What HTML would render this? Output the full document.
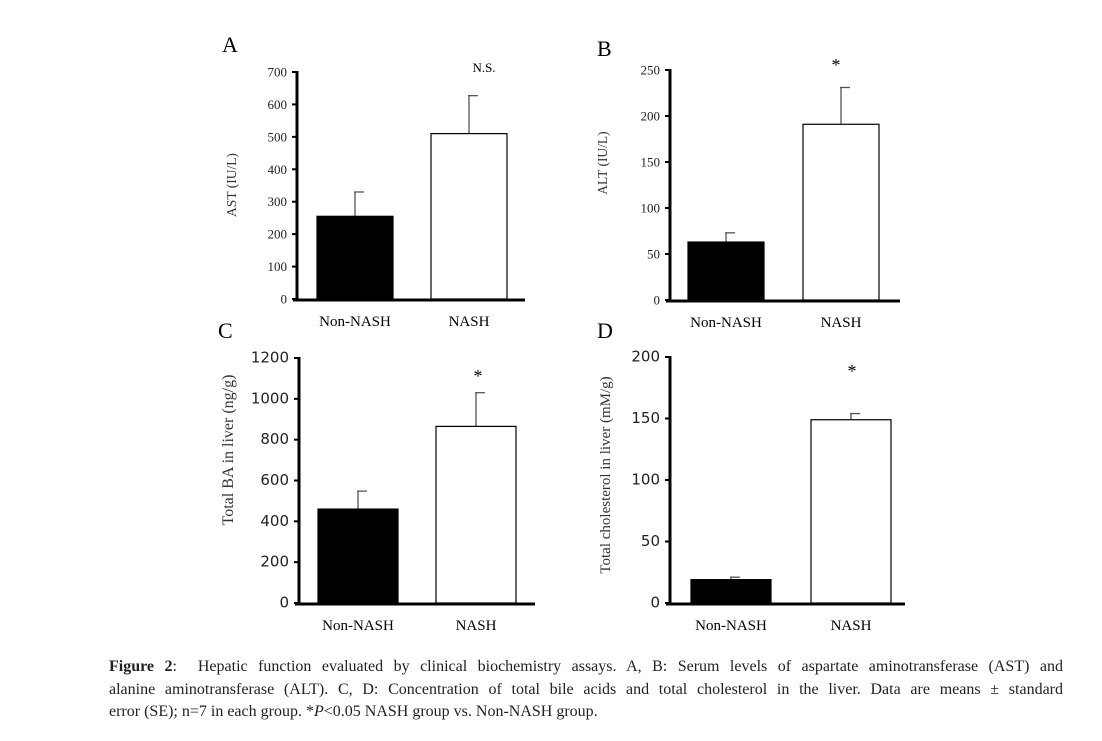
<!DOCTYPE html>
<html><head><meta charset="utf-8"><style>
body{margin:0;background:#fff;width:1102px;height:741px;overflow:hidden;position:relative;font-family:"Liberation Serif",serif}
.cap{position:absolute;left:109px;top:656px;width:954px;font-size:16px;line-height:22.5px;color:#222}
.cap div{white-space:nowrap}
.cap .j{text-align:justify;text-align-last:justify;white-space:normal}
</style></head><body>
<svg id="chart" width="1102" height="650" style="position:absolute;left:0;top:0" font-family="Liberation Serif, serif"></svg>
<div class="cap">
<div class="j"><b>Figure 2</b>: &nbsp;Hepatic function evaluated by clinical biochemistry assays. A, B: Serum levels of aspartate aminotransferase (AST) and</div>
<div class="j">alanine aminotransferase (ALT). C, D: Concentration of total bile acids and total cholesterol in the liver. Data are means ± standard</div>
<div>error (SE); n=7 in each group. *<i>P</i>&lt;0.05 NASH group vs. Non-NASH group.</div>
</div>
<script>
const categories=["Non-NASH","NASH"];
const astValues=[255,510];const astErrors=[75,117];const astTicks=[0,100,200,300,400,500,600,700];
const altValues=[63,191];const altErrors=[10,40];const altTicks=[0,50,100,150,200,250];
const baValues=[460,865];const baErrors=[88,165];const baTicks=[0,200,400,600,800,1000,1200];
const tcValues=[19,149];const tcErrors=[2,5];const tcTicks=[0,50,100,150,200];
const svg=document.getElementById('chart');const NS="http://www.w3.org/2000/svg";
function mk(t,a,p){const e=document.createElementNS(NS,t);for(const k in a)e.setAttribute(k,a[k]);(p||svg).appendChild(e);return e;}
function panel(o){
 const g=mk('g',{});
 
 
 const max=o.ticks[o.ticks.length-1];
 const y=v=>o.y0-(v/max)*(o.y0-o.yTop);
 const lbl=mk('text',{x:o.lx,y:o.ly,'font-size':22},g);lbl.textContent=o.id;
 
 
 o.ticks.forEach(t=>{
  mk('line',{x1:o.ax-5,x2:o.ax,y1:y(t),y2:y(t),stroke:'#000','stroke-width':2},g);
  const tx=mk('text',{x:o.ax-10,y:y(t)+4.5,'text-anchor':'end','font-size':o.tfs,'font-family':o.tff,fill:'#222'},g);
  tx.textContent=t;
  
  
 });
 categories.forEach((c,i)=>{
  const x0=o.bx[i],w=o.bw,v=o.vals[i],e=o.errs[i];
  mk('line',{x1:x0+w/2,x2:x0+w/2,y1:y(v),y2:y(v+e),stroke:'#555','stroke-width':1.3},g);
  mk('line',{x1:x0+w/2-1,x2:x0+w/2+9,y1:y(v+e),y2:y(v+e),stroke:'#555','stroke-width':1.3},g);
  const r=mk('rect',{x:x0,y:y(v),width:w,height:y(0)-y(v),fill:i?'#fff':'#000',stroke:'#000','stroke-width':1.2},g);
  
  
  const cl=mk('text',{x:x0+w/2,y:o.y0+27,'text-anchor':'middle','font-size':15},g);cl.textContent=c;
  
  
 });
 mk('line',{x1:o.ax,x2:o.ax,y1:o.yTop-1,y2:o.y0+2,stroke:'#000','stroke-width':3},g);
 mk('line',{x1:o.ax-4,x2:o.axEnd,y1:o.y0+1,y2:o.y0+1,stroke:'#000','stroke-width':3},g);
 const yt=mk('text',{transform:`translate(${o.tx},${o.ty}) rotate(-90)`,'text-anchor':'middle','font-size':o.yfs,fill:'#333'},g);yt.textContent=o.title;
 
 
 const s=mk('text',{x:o.sx,y:o.sy,'text-anchor':'middle','font-size':o.sig==='*'?18:13},g);s.textContent=o.sig;
 
 
}
panel({id:'A',lx:222,ly:52,ax:297,axEnd:525,yTop:72,y0:299,bx:[317,431],bw:76,vals:astValues,errs:astErrors,ticks:astTicks,tfs:13,tff:'Liberation Serif',title:'AST (IU/L)',tx:236,ty:185,yfs:13.5,sig:'N.S.',sx:484,sy:72});
panel({id:'B',lx:597,ly:56,ax:670,axEnd:900,yTop:70,y0:300,bx:[688,803],bw:76,vals:altValues,errs:altErrors,ticks:altTicks,tfs:13,tff:'Liberation Serif',title:'ALT (IU/L)',tx:607,ty:163,yfs:13.5,sig:'*',sx:836,sy:71});
panel({id:'C',lx:218,ly:338,ax:299,axEnd:535,yTop:358,y0:603,bx:[318,436],bw:80,vals:baValues,errs:baErrors,ticks:baTicks,tfs:15,tff:'DejaVu Sans',title:'Total BA in liver (ng/g)',tx:233,ty:450,yfs:16,sig:'*',sx:478,sy:382});
panel({id:'D',lx:597,ly:338,ax:670,axEnd:905,yTop:357,y0:603,bx:[691,811],bw:80,vals:tcValues,errs:tcErrors,ticks:tcTicks,tfs:15,tff:'DejaVu Sans',title:'Total cholesterol in liver (mM/g)',tx:610,ty:475,yfs:15,sig:'*',sx:852,sy:377});
</script>
</body></html>
